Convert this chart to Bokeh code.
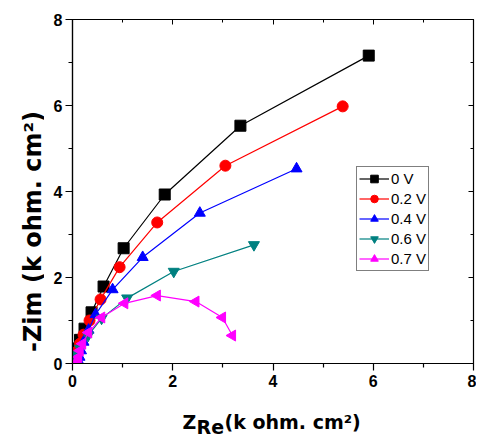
import math
from bokeh.plotting import figure
from bokeh.layouts import row, column
from bokeh.models import LinearAxis, Range1d, Legend, LegendItem, FixedTicker
from bokeh.core.properties import value
from bokeh.embed import file_html
from bokeh.resources import INLINE

series_names = ["0 V", "0.2 V", "0.4 V", "0.6 V", "0.7 V"]
x_0V = [0.04, 0.05, 0.07, 0.10, 0.15, 0.24, 0.38, 0.62, 1.02, 1.84, 3.35, 5.91]
y_0V = [0.03, 0.10, 0.20, 0.35, 0.55, 0.81, 1.19, 1.79, 2.68, 3.93, 5.53, 7.16]
x_02V = [0.05, 0.06, 0.08, 0.11, 0.15, 0.22, 0.34, 0.56, 0.94, 1.69, 3.05, 5.39]
y_02V = [0.02, 0.08, 0.18, 0.30, 0.46, 0.67, 1.00, 1.49, 2.24, 3.28, 4.60, 5.98]
x_04V = [0.11, 0.12, 0.14, 0.17, 0.22, 0.32, 0.46, 0.80, 1.40, 2.54, 4.47]
y_04V = [0.00, 0.05, 0.15, 0.30, 0.50, 0.78, 1.14, 1.72, 2.47, 3.50, 4.53]
x_06V = [0.01, 0.02, 0.07, 0.15, 0.31, 0.58, 1.09, 2.02, 3.62]
y_06V = [0.00, 0.08, 0.20, 0.35, 0.65, 1.05, 1.52, 2.14, 2.76]
x_07V = [0.09, 0.10, 0.12, 0.15, 0.20, 0.32, 0.58, 1.04, 1.69, 2.46, 2.99, 3.19]
y_07V = [0.00, 0.05, 0.15, 0.30, 0.46, 0.72, 1.07, 1.40, 1.58, 1.44, 1.07, 0.65]
x_ticks = [0, 2, 4, 6, 8]
y_ticks = [0, 2, 4, 6, 8]
minor = [1, 3, 5, 7]
y_title = "-Zim (k ohm. cm²)"
x_title_parts = ["Z", "Re", "(k ohm. cm²)"]

colors = ["#000000", "#ff0000", "#0000ff", "#008080", "#ff00ff"]
markers = ["square", "circle", "triangle", "inverted_triangle", "triangle"]
angles = [0, 0, 0, 0, math.pi / 2]
xs = [x_0V, x_02V, x_04V, x_06V, x_07V]
ys = [y_0V, y_02V, y_04V, y_06V, y_07V]

FONT = "Liberation Sans"
TFONT = "DejaVu Sans"
YW = 44      # width of y-title strip
PH = 393     # main plot height
XH = 41      # height of x-title strip
PW = 432

p = figure(width=PW, height=PH, output_backend="svg", toolbar_location=None,
           x_range=Range1d(0, 8), y_range=Range1d(0, 8),
           min_border_left=72 - YW, min_border_right=3, min_border_top=19,
           min_border_bottom=PH - 363)
p.grid.visible = False
p.outline_line_color = "black"
p.outline_line_width = 1.2

p.xaxis[0].ticker = FixedTicker(ticks=x_ticks, minor_ticks=minor)
p.yaxis[0].ticker = FixedTicker(ticks=y_ticks, minor_ticks=minor)
for ax in (p.xaxis[0], p.yaxis[0]):
    ax.major_label_text_font = FONT
    ax.major_label_text_font_style = "bold"
    ax.major_label_text_font_size = "16px"
    ax.major_label_text_color = "black"
    ax.major_label_standoff = 3
    ax.major_tick_out = 7
    ax.major_tick_in = 0
    ax.minor_tick_out = 4
    ax.minor_tick_in = 0
    ax.axis_line_width = 1.2
    ax.major_tick_line_width = 1.2
    ax.minor_tick_line_width = 1.2
p.xaxis[0].major_label_standoff = 4

top = LinearAxis(ticker=FixedTicker(ticks=x_ticks, minor_ticks=minor),
                 major_label_text_font_size="0px", major_tick_in=5, major_tick_out=0,
                 minor_tick_in=3, minor_tick_out=0, major_label_standoff=0)
right = LinearAxis(ticker=FixedTicker(ticks=y_ticks, minor_ticks=minor),
                   major_label_text_font_size="0px", major_tick_in=5, major_tick_out=0,
                   minor_tick_in=3, minor_tick_out=0, major_label_standoff=0)
p.add_layout(top, "above")
p.add_layout(right, "right")

items = []
for name, x, y, c, m, a in zip(series_names, xs, ys, colors, markers, angles):
    l = p.line(x, y, line_color=c, line_width=1.2)
    s = p.scatter(x, y, marker=m, size=11, angle=a, fill_color=c, line_color=c)
    items.append(LegendItem(label=name, renderers=[l, s]))

legend = Legend(items=items, location=(356 - 72, 363 - 271))
legend.label_text_font = FONT
legend.label_text_font_size = "15px"
legend.label_text_color = "black"
legend.border_line_color = "black"
legend.border_line_width = 1.2
legend.glyph_width = 30
legend.glyph_height = 19
legend.label_height = 19
legend.spacing = 1
legend.padding = 2
legend.margin = 0
legend.label_standoff = 2
legend.background_fill_alpha = 1
p.add_layout(legend, "center")

# y-title strip (page pixel coordinates, y downward)
yf = figure(width=YW, height=PH + XH, output_backend="svg", toolbar_location=None,
            x_range=Range1d(0, YW), y_range=Range1d(PH + XH, 0),
            x_axis_type=None, y_axis_type=None,
            min_border=0, min_border_left=0, min_border_right=0,
            min_border_top=0, min_border_bottom=0, outline_line_color=None)
yf.grid.visible = False
yf.text(x=[32], y=[231], text=[y_title], angle=math.pi / 2,
        text_align="center", text_baseline="alphabetic",
        text_font=value(TFONT), text_font_style="bold", text_font_size="24px",
        text_color="black")

# x-title strip (its frame is aligned with the main frame: page x 72..473)
xf = figure(width=PW, height=XH, output_backend="svg", toolbar_location=None,
            x_range=Range1d(72, 473), y_range=Range1d(PH + XH, PH),
            x_axis_type=None, y_axis_type=None,
            min_border=0, min_border_left=0, min_border_right=0,
            min_border_top=0, min_border_bottom=0, outline_line_color=None)
xf.grid.visible = False
xf.text(x=[182], y=[421], text=[x_title_parts[0]], text_baseline="alphabetic",
        text_font=value(TFONT), text_font_style="bold", text_font_size="19px", text_color="black")
xf.text(x=[196], y=[426], text=[x_title_parts[1]], text_baseline="alphabetic",
        text_font=value(TFONT), text_font_style="bold", text_font_size="19px", text_color="black")
xf.text(x=[224], y=[421], text=[x_title_parts[2]], text_baseline="alphabetic",
        text_font=value(TFONT), text_font_style="bold", text_font_size="19px", text_color="black")

layout = row(yf, column(p, xf, spacing=0), spacing=0)
open("out.html", "w").write(file_html(layout, INLINE))
